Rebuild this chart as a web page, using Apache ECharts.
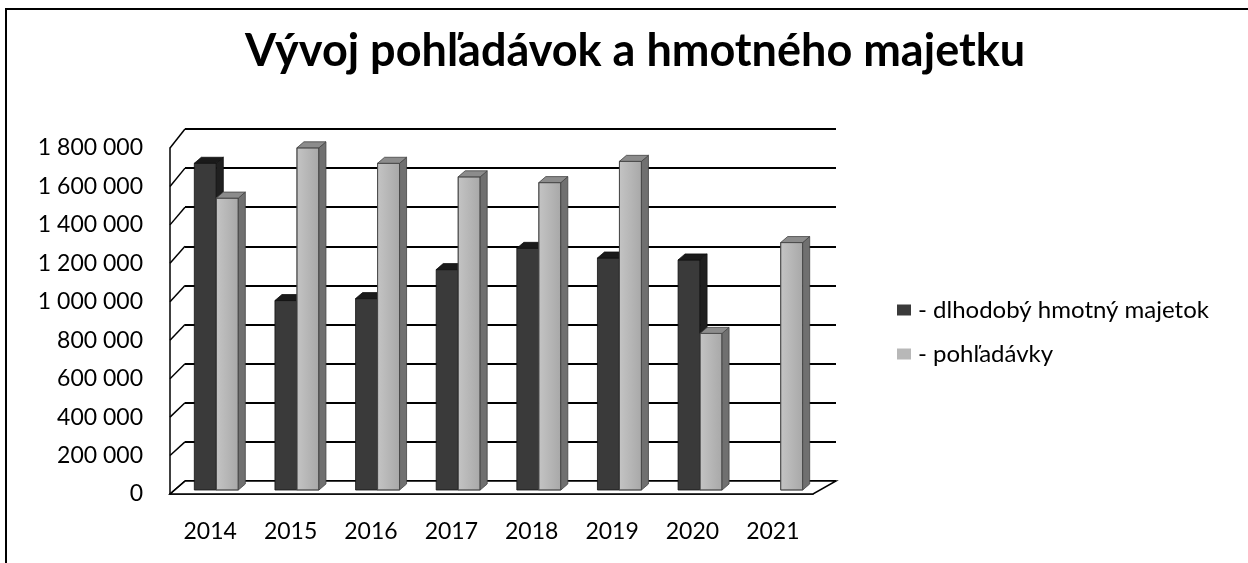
<!DOCTYPE html>
<html><head><meta charset="utf-8">
<script src="https://cdn.jsdelivr.net/npm/echarts/dist/echarts.min.js"></script>
<style>html,body{margin:0;padding:0;background:#fff}#c{width:1248px;height:563px}</style>
</head><body><div id="c"></div>
<script>
const titleText = 'Vývoj pohľadávok a hmotného majetku';
const years = ['2014', '2015', '2016', '2017', '2018', '2019', '2020', '2021'];
const seriesNames = ['- dlhodobý hmotný majetok', '- pohľadávky'];
const dlhodobyMajetok = [1690000, 980000, 990000, 1140000, 1250000, 1200000, 1190000, null];
const pohladavky = [1510000, 1770000, 1690000, 1620000, 1590000, 1700000, 810000, 1280000];
const yTicks = [0, 200000, 400000, 600000, 800000, 1000000, 1200000, 1400000, 1600000, 1800000];

const FONT = 'Lato';
const FRONT = {left: 170, top: 148, width: 643, height: 346};
const BACK = {left: 185, top: 129, width: 651, height: 352};
const BARS = {left: 178, top: 142, width: 645, height: 348};
const BAR_W = 22, DX = 7, DY = -6;

const yMin = yTicks[0], yMax = yTicks[yTicks.length - 1], yStep = yTicks[1] - yTicks[0];
const fmt = v => String(v).replace(/\B(?=(\d{3})+(?!\d))/g, ' ');

function bar3D(offset, c) {
  return function (params, api) {
    const v = api.value(1);
    if (v == null || isNaN(v)) return null;
    const top = api.coord([api.value(0), v]);
    const base = api.coord([api.value(0), 0]);
    const x0 = top[0] + offset, w = BAR_W, t = top[1], b = base[1];
    return {type: 'group', children: [
      {type: 'rect', shape: {x: x0, y: t, width: w, height: b - t},
        style: {fill: c.front, stroke: c.edge, lineWidth: 0.8}},
      {type: 'polygon', shape: {points: [[x0 + w, t], [x0 + w + DX, t + DY], [x0 + w + DX, b + DY], [x0 + w, b]]},
        style: {fill: c.side, stroke: c.edge, lineWidth: 0.8}},
      {type: 'polygon', shape: {points: [[x0, t], [x0 + w, t], [x0 + w + DX, t + DY], [x0 + DX, t + DY]]},
        style: {fill: c.top, stroke: c.edge, lineWidth: 0.8}}
    ]};
  };
}
const toData = arr => arr.map((v, i) => [i, v]).filter(d => d[1] != null);

const darkC = {front: '#3a3a3a', side: '#202020', top: '#1a1a1a', edge: '#111'};
const lightC = {front: new echarts.graphic.LinearGradient(0, 0, 1, 0, [{offset: 0, color: '#c4c4c4'}, {offset: 1, color: '#a8a8a8'}]),
  side: '#707070', top: '#8c8c8c', edge: '#444'};

const option = {
  animation: false,
  backgroundColor: '#fff',
  title: {text: titleText, left: 630, top: 24, textAlign: 'center',
    textStyle: {fontFamily: FONT, fontWeight: 'bold', fontSize: 45, color: '#000'}},
  legend: {orient: 'vertical', left: 892, top: 293, itemWidth: 14, itemHeight: 11, itemGap: 20, icon: 'rect',
    data: seriesNames, textStyle: {fontFamily: FONT, fontSize: 24, color: '#000', padding: [0, 0, 0, 2]}},
  grid: [
    Object.assign({containLabel: false}, FRONT),
    Object.assign({containLabel: false}, BACK),
    Object.assign({containLabel: false}, BARS)
  ],
  xAxis: [
    {type: 'category', gridIndex: 0, data: years, axisTick: {show: false},
      axisLine: {show: true, lineStyle: {color: '#000', width: 1.5}},
      axisLabel: {margin: 26, fontFamily: FONT, fontSize: 23, color: '#000'}},
    {type: 'category', gridIndex: 1, data: years, show: false},
    {type: 'category', gridIndex: 2, data: years, show: false}
  ],
  yAxis: [
    {type: 'value', gridIndex: 0, min: yMin, max: yMax, interval: yStep,
      axisLine: {show: true, lineStyle: {color: '#000', width: 1.5}}, axisTick: {show: false},
      splitLine: {show: false},
      axisLabel: {margin: 27, formatter: fmt, fontFamily: FONT, fontSize: 23, color: '#000'}},
    {type: 'value', gridIndex: 1, min: yMin, max: yMax, interval: yStep,
      axisLine: {show: false}, axisTick: {show: false}, axisLabel: {show: false},
      splitLine: {show: true, lineStyle: {color: '#000', width: 2}}},
    {type: 'value', gridIndex: 2, min: yMin, max: yMax, interval: yStep, show: false, splitLine: {show: false}}
  ],
  series: [
    {name: seriesNames[0], type: 'custom', xAxisIndex: 2, yAxisIndex: 2, z: 3,
      itemStyle: {color: '#3a3a3a'}, renderItem: bar3D(-24, darkC), data: toData(dlhodobyMajetok)},
    {name: seriesNames[1], type: 'custom', xAxisIndex: 2, yAxisIndex: 2, z: 4,
      itemStyle: {color: '#b8b8b8'}, renderItem: bar3D(-2, lightC), data: toData(pohladavky)}
  ]
};

const chart = echarts.init(document.getElementById('c'), null, {renderer: 'canvas'});
chart.setOption(option);

const yF = v => chart.convertToPixel({yAxisIndex: 0}, v);
const yB = v => chart.convertToPixel({yAxisIndex: 1}, v);
const frontRight = FRONT.left + FRONT.width, backRight = BACK.left + BACK.width;
const graphics = [
  {type: 'rect', z: 0, shape: {x: 6, y: 9, width: 1400, height: 800}, style: {fill: 'none', stroke: '#000', lineWidth: 2}},
  {type: 'polygon', z: 1, shape: {points: [[FRONT.left, yF(0)], [frontRight, yF(0)], [backRight, yB(0)], [BACK.left, yB(0)]]},
    style: {fill: '#fff', stroke: '#000', lineWidth: 1.5}}
];
yTicks.forEach(v => graphics.push({type: 'line', z: 1,
  shape: {x1: FRONT.left, y1: yF(v), x2: BACK.left, y2: yB(v)}, style: {stroke: '#000', lineWidth: 1.5}}));
chart.setOption({graphic: graphics});
</script></body></html>
